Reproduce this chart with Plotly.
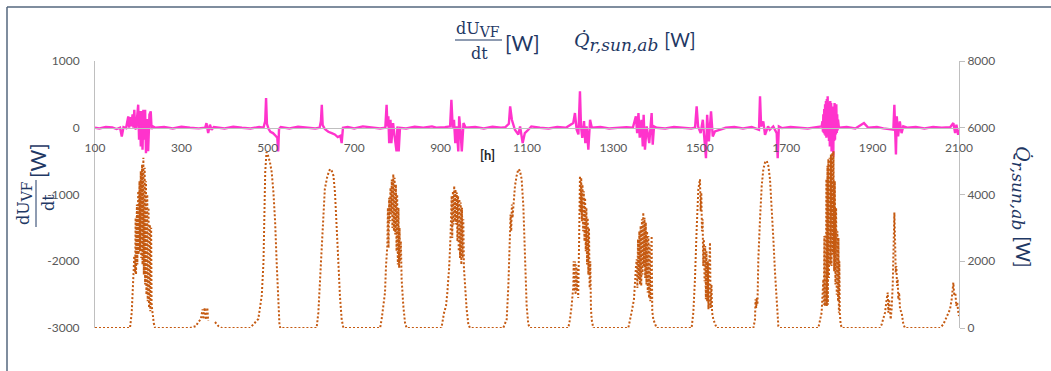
import plotly.graph_objects as go

# dU_VF/dt [W] against hours (left axis)
hours_dudt = [
    100, 110, 125, 140, 150, 158, 162, 166, 172, 177, 179, 181, 184, 187, 189, 191, 193, 195,
    200, 202, 204, 206, 208, 210, 212, 214, 216, 218, 220, 223, 226, 229, 231, 234, 240,
    260, 280, 300, 320, 340, 355, 358, 362, 366, 370, 375, 400, 420, 440, 460, 480, 490,
    494, 496, 498, 502, 506, 512, 518, 522, 524, 526, 530, 550, 570, 590, 610, 620,
    623, 625, 627, 632, 640, 648, 655, 662, 668, 671, 674, 685, 700, 720, 740, 760,
    772, 775, 777, 779, 781, 784, 786, 790, 794, 798, 800, 803, 806, 820, 840, 860,
    880, 890, 910, 922, 925, 928, 931, 934, 937, 941, 943, 946, 949, 953, 958, 980,
    1000, 1020, 1040, 1050, 1058, 1061, 1065, 1072, 1080, 1084, 1090, 1095, 1103, 1110,
    1130, 1150, 1170, 1190, 1207, 1211, 1215, 1219, 1222.6, 1225, 1228, 1232, 1235, 1238,
    1242, 1246, 1250, 1270, 1290, 1310, 1330, 1345, 1350, 1352, 1355, 1358, 1361, 1365,
    1368, 1370, 1373, 1377, 1383, 1388.5, 1391, 1394, 1400, 1420, 1440, 1460, 1480,
    1489, 1492.7, 1496, 1502, 1507, 1511, 1514.3, 1517, 1521, 1526, 1530, 1535, 1545,
    1560, 1580, 1600, 1620, 1637, 1639.4, 1642, 1647, 1651, 1658, 1662, 1670, 1678,
    1680.3, 1683, 1690, 1710, 1730, 1750, 1770, 1782,
    1784, 1785, 1786, 1787, 1788, 1789, 1790, 1791, 1792, 1793, 1794, 1795, 1796, 1797,
    1798, 1799, 1800, 1801, 1802, 1803, 1804, 1805, 1806, 1807, 1808, 1809, 1810, 1811,
    1812, 1813, 1814, 1815, 1816, 1817, 1818, 1819, 1820, 1822,
    1840, 1860, 1880, 1890, 1910, 1925, 1948, 1950.4, 1952.5, 1954, 1956, 1959, 1963,
    1967, 1971, 1980, 2000, 2020, 2040, 2060, 2080, 2087, 2091, 2094, 2098, 2100,
]
dudt_w = [
    0, -10, 10, 5, -20, 0, -130, 10, -5, 170, 0, 160, 20, 200, 0, 270, -10, -20,
    345, -180, 250, -280, 250, -330, 270, -180, 270, -380, 130, -350, 200, 245, -20, 20, 0,
    10, -10, 15, 0, -10, 0, 70, -80, 45, -30, 10, -10, 15, 0, -10, 10, 0,
    100, 445, 60, -20, -60, -80, -120, -150, -355, -20, 10, -10, 15, 0, -10, 0,
    100, 345, 40, -20, -60, -80, -100, -140, -120, -230, 0, 10, -10, 20, 0, -10,
    0, 345, 20, 170, -230, 120, -230, 70, -150, -355, 20, -355, 0, -10, 15, 0,
    20, 0, 10, 20, 420, 0, 120, -230, 20, -355, 170, -30, -355, 70, 0, 10,
    -10, 15, 0, 10, 60, 320, 120, -30, -100, 20, -230, -80, -30, 20,
    0, -10, 10, 0, 70, 220, -30, -100, 545, 20, -150, 100, -230, 20,
    -330, 120, 0, 10, -10, 0, 10, 0, 120, 170, -80, 220, -150, 120,
    -280, 195, -330, 20, -230, 220, -255, 20, 0, -10, 10, 0, -10,
    0, 320, 20, -80, 120, -180, -455, 195, -205, 245, -130, -55, -30,
    0, 10, -10, 10, -30, 470, 20, 95, -105, 20, -30, 20, -80,
    -455, 20, -5, 10, 0, -10, 10, 20,
    100, -60, 200, -80, 280, -100, 350, -120, 400, -150, 430, -100, 470, -130,
    380, -200, 320, -280, 400, -150, 370, -355, 300, -250, 320, -430, 250, -200,
    370, -180, 300, -100, 350, -80, 200, -40, 120, 0,
    10, -10, 70, 0, 10, -10, -30, 345, -80, -400, 170, -130, 95,
    -80, 20, 0, 10, -10, 10, 0, 10, 70, -80, 45, -105, -30,
]

# Q_r,sun,ab [W] against hours (right axis); None marks a break in the record
hours_sun = [
    100, 181, 185, 188, 191, 193, 194, 195, 197, 198, 200, 201, 203, 204, 206, 207, 209, 210,
    212, 213, 215, 216, 218, 219, 221, 222, 224, 225, 227, 228, 230, 231, 233, 236, 239,
    320, 334, 339, 345, 349, 351, 354, 357, 360, 362, None, 377.8, 385.5, 393,
    459, 478, 486, 490, 492, 494, 497, 501, 505, 509, 513, 517, 520.5, 524, 527, 529,
    613, 617, 621, 625, 628.5, 632, 638, 644, 648, 652, 655.5, 659.4, 663, 667, 671, 675,
    760, 763.5, 767.4, 771.3, 773.6, 776.7, 778, 779.5, 781, 782.5, 784, 785.5, 787, 788.5,
    790.5, 792, 793.5, 795, 796.5, 798, 799.5, 801, 802.5, 804, 805, 806.5, 808, 809.8,
    813.7, 817.6, 821.4,
    902, 908, 912.5, 915.6, 920, 923, 925.6, 927, 928.5, 930, 931.5, 933, 934.5, 936,
    937.5, 939, 940.5, 942, 943.5, 945, 946.5, 948, 949.5, 951, 952.6, 954, 956.4, 960.3,
    964.2, 968,
    1045, 1053, 1056.8, 1060.6, 1062, 1063.5, 1065, 1066.5, 1068.3, 1072.2, 1076, 1080,
    1083.7, 1087.6, 1091.5, 1093.8, 1096, 1099.2, 1103, 1107,
    1195.6, 1199.5, 1203.3, 1207.2, 1208, 1209.5, 1211, 1212.5, 1214, 1215.5, 1217, 1218.5,
    1220.5, 1222.6, 1224, 1225.5, 1227, 1228.5, 1230, 1231.5, 1233, 1234.5, 1236, 1237.5,
    1239, 1240.5, 1242, 1243.5, 1245, 1246.5, 1248, 1249.6, 1253.5,
    1334.5, 1342, 1347.6, 1352.3, 1354, 1355.5, 1357, 1358.5, 1360, 1361.5, 1363, 1364.5,
    1366, 1367.5, 1369.2, 1370.5, 1372, 1373.5, 1375, 1376.5, 1378, 1379.5, 1381, 1382.5,
    1384, 1385.5, 1387, 1388.5, 1390, 1392.4, 1400,
    1481, 1485, 1488.8, 1492.7, 1496.6, 1500.4, 1502, 1503.5, 1505, 1506.5, 1508, 1509.5,
    1511, 1512.5, 1514, 1515.5, 1517, 1518.5, 1520, 1521.5, 1523.6, 1525, 1527, 1528.5,
    1531.3, 1539,
    1624, 1627.8, 1629, 1630.5, 1632, 1633.5, 1635.5, 1639.4, 1643.3, 1647.1, 1651, 1654.8,
    1658.7, 1662.5, 1666.4, 1670.3, 1674.1, 1678, 1681.8, 1685.7,
    1774.4, 1782, 1784.5, 1786, 1787, 1788.3, 1789.5, 1791, 1792, 1793, 1794, 1795.5,
    1796.5, 1797.6, 1799, 1800.5, 1802, 1803.5, 1805, 1806.5, 1808, 1809.5, 1811, 1812.5,
    1814, 1815.5, 1817, 1818.5, 1820, 1821, 1822, 1823, 1824, 1826, 1829,
    1917, 1921, 1925, 1928.7, 1932.6, 1935, 1936.5, 1938.5, 1941.9, 1944, 1946.5, 1948,
    1950.4, 1952, 1953.5, 1955, 1956.5, 1958, 1959.5, 1961.5, 1963.5, 1967.3, 1971.2, 1975,
    2056, 2063.8, 2071.5, 2079.2, 2083, 2086.9, 2089.2, 2091.5, 2093.7, 2096, 2098.5, 2100,
]
q_sun_w = [
    0, 0, 460, 1260, 2160, 1660, 3300, 1600, 3700, 1900, 4100, 2200, 4400, 2300, 4700, 2100, 4900, 1900,
    5100, 1600, 4800, 1300, 4400, 1000, 4000, 800, 3600, 600, 3100, 500, 3000, 700, 400, 150, 0,
    0, 60, 180, 260, 560, 260, 610, 250, 610, 210, None, 180, 60, 0,
    0, 270, 970, 1970, 3470, 4670, 5270, 5150, 4970, 4670, 4070, 3170, 1970, 670, 100, 0,
    0, 460, 1460, 2660, 3460, 4160, 4560, 4760, 4710, 4560, 4060, 3160, 2060, 960, 260, 0,
    0, 260, 660, 1060, 1860, 2460, 3600, 2400, 3900, 3200, 4200, 3400, 4450, 3000,
    4610, 2900, 4500, 2800, 4300, 2300, 4000, 1900, 3600, 1800, 3000, 2000, 2600, 1460,
    660, 160, 0,
    0, 460, 660, 1060, 1860, 2760, 3960, 2700, 4100, 3100, 4260, 3200, 4150, 3100,
    4060, 2600, 3960, 2300, 3860, 2100, 3760, 1900, 3600, 2100, 3260, 1800, 1260, 560,
    110, 0,
    0, 260, 1260, 2460, 3400, 2900, 3700, 3300, 3660, 4260, 4560, 4760,
    4710, 4460, 3660, 2660, 1660, 660, 110, 0,
    0, 260, 660, 1260, 2000, 1100, 2000, 1000, 1900, 1100, 1800, 900,
    2500, 4560, 3460, 4500, 3200, 4300, 2900, 4100, 2600, 3900, 2300, 3600,
    1900, 3300, 1600, 3000, 1200, 2000, 600, 260, 0,
    0, 460, 860, 1860, 2060, 1200, 2660, 1460, 2900, 1300, 3060, 1260,
    3260, 1600, 3460, 1860, 3300, 1500, 3160, 1300, 2900, 1060, 2760, 900,
    2500, 800, 2200, 2760, 500, 260, 0,
    0, 460, 1460, 2960, 4160, 4460, 3500, 4060, 2900, 3260, 1860, 2660,
    1400, 2460, 860, 2300, 800, 2000, 560, 1800, 2560, 600, 1300, 460,
    260, 0,
    0, 260, 860, 600, 900, 700, 2060, 3260, 4260, 4760, 4960, 5010,
    4860, 4460, 3660, 2660, 1660, 660, 60, 0,
    0, 460, 960, 1460, 700, 2760, 660, 2800, 700, 4460, 660, 4860,
    700, 5060, 1500, 5100, 1900, 5200, 1860, 5250, 2200, 5300, 1700, 4400,
    1300, 3600, 1000, 2900, 800, 2700, 460, 2000, 460, 110, 0,
    0, 110, 260, 460, 860, 1060, 460, 860, 260, 560, 1260, 2060,
    3460, 2660, 1660, 1860, 1260, 1460, 860, 1060, 560, 460, 110, 0,
    0, 110, 310, 560, 860, 1360, 960, 1060, 660, 760, 460, 360,
]

x_ticks = [100, 300, 500, 700, 900, 1100, 1300, 1500, 1700, 1900, 2100]
left_ticks = [-3000, -2000, -1000, 0, 1000]
left_tick_text = ["-3000", "-2000", "-1000", "0", "1000"]
right_ticks = [0, 2000, 4000, 6000, 8000]

W, H = 1051, 371
PLOT_L, PLOT_R, PLOT_T, PLOT_B = 95, 959, 61, 328


def px(x):
    """Pixel column -> paper x."""
    return (x - PLOT_L) / (PLOT_R - PLOT_L)


def py(y):
    """Pixel row -> paper y."""
    return (PLOT_B - y) / (PLOT_B - PLOT_T)


TICK_FONT = dict(family="Lato, Open Sans, sans-serif", size=12, color="#595959")
NAVY = "#1F3864"
SERIF = "DejaVu Serif, Liberation Serif, serif"
AXIS_GREY = "#BFBFBF"

# solar-gain label with a full-size subscript
Q_LABEL = ("<i>Q\u0307</i><sub><span style='font-size:17px'><i>r,sun,ab</i></span></sub>"
           " <span style='font-family:Lato'>[W]</span>")
DU_LABEL = "dU<sub><span style='font-size:14px'>VF</span></sub>"

fig = go.Figure()

fig.add_trace(go.Scatter(
    x=hours_sun, y=q_sun_w, yaxis="y2", mode="lines",
    line=dict(color="#C55A11", width=2, dash="2px,2px"),
    connectgaps=False, showlegend=False, hoverinfo="skip",
))
fig.add_trace(go.Scatter(
    x=hours_dudt, y=dudt_w, yaxis="y", mode="lines",
    line=dict(color="#FF33CC", width=2.4),
    showlegend=False, hoverinfo="skip",
))

fig.update_layout(
    width=W, height=H,
    margin=dict(l=PLOT_L, r=W - PLOT_R, t=PLOT_T, b=H - PLOT_B, pad=0),
    paper_bgcolor="white", plot_bgcolor="white",
    xaxis=dict(
        range=[100, 2100], tickvals=x_ticks, ticktext=[str(v) for v in x_ticks],
        anchor="free", position=py(128), showgrid=False, zeroline=False,
        showline=True, linecolor=AXIS_GREY, linewidth=1,
        ticks="outside", ticklen=9, tickcolor="rgba(0,0,0,0)", tickfont=TICK_FONT,
    ),
    yaxis=dict(
        range=[-3000, 1000], tickvals=left_ticks, ticktext=left_tick_text,
        showgrid=False, zeroline=False, showline=True, linecolor=AXIS_GREY, linewidth=1,
        ticks="outside", ticklen=12, tickcolor="rgba(0,0,0,0)", tickfont=TICK_FONT,
    ),
    yaxis2=dict(
        range=[0, 8000], tickvals=right_ticks, ticktext=[str(v) for v in right_ticks],
        overlaying="y", side="right", showgrid=False, zeroline=False,
        showline=True, linecolor=AXIS_GREY, linewidth=1,
        ticks="outside", ticklen=5, tickcolor=AXIS_GREY, tickfont=TICK_FONT,
    ),
)

annotations = []
shapes = []

# labels above the plot: dU_VF/dt [W] and Q_r,sun,ab [W]
annotations.append(dict(
    x=px(478), y=py(30), xref="paper", yref="paper", showarrow=False,
    text=DU_LABEL, font=dict(family=SERIF, size=16, color=NAVY),
    xanchor="center", yanchor="middle",
))
shapes.append(dict(type="line", xref="paper", yref="paper",
                   x0=px(455), x1=px(502), y0=py(40), y1=py(40),
                   line=dict(color=NAVY, width=1)))
annotations.append(dict(
    x=px(479), y=py(54), xref="paper", yref="paper", showarrow=False,
    text="dt", font=dict(family=SERIF, size=16, color=NAVY),
    xanchor="center", yanchor="middle",
))
annotations.append(dict(
    x=px(503), y=py(42), xref="paper", yref="paper", showarrow=False,
    text="[W]", font=dict(family="Lato, sans-serif", size=21, color=NAVY),
    xanchor="left", yanchor="middle",
))
annotations.append(dict(
    x=px(572), y=py(41), xref="paper", yref="paper", showarrow=False,
    text=Q_LABEL, font=dict(family=SERIF, size=19, color=NAVY),
    xanchor="left", yanchor="middle",
))

# left axis title, rotated: dU_VF/dt [W]
annotations.append(dict(
    x=px(24), y=py(203), xref="paper", yref="paper", showarrow=False,
    text=DU_LABEL, textangle=-90,
    font=dict(family=SERIF, size=16, color=NAVY),
    xanchor="center", yanchor="middle",
))
shapes.append(dict(type="line", xref="paper", yref="paper",
                   x0=px(36), x1=px(36), y0=py(180), y1=py(227),
                   line=dict(color=NAVY, width=1)))
annotations.append(dict(
    x=px(48), y=py(203), xref="paper", yref="paper", showarrow=False,
    text="dt", textangle=-90,
    font=dict(family=SERIF, size=16, color=NAVY),
    xanchor="center", yanchor="middle",
))
annotations.append(dict(
    x=px(37), y=py(160), xref="paper", yref="paper", showarrow=False,
    text="[W]", textangle=-90,
    font=dict(family="Lato, sans-serif", size=21, color=NAVY),
    xanchor="center", yanchor="middle",
))

# right axis title, rotated
annotations.append(dict(
    x=px(1022), y=py(207), xref="paper", yref="paper", showarrow=False,
    text=Q_LABEL, textangle=90, font=dict(family=SERIF, size=19, color=NAVY),
    xanchor="center", yanchor="middle",
))

# x axis unit
annotations.append(dict(
    x=px(487), y=py(155), xref="paper", yref="paper", showarrow=False,
    text="<b>[h]</b>", font=dict(family="Lato, sans-serif", size=13, color="#262626"),
    xanchor="center", yanchor="middle",
))

# chart frame
shapes.append(dict(type="line", xref="paper", yref="paper",
                   x0=px(7), x1=px(1060), y0=py(7), y1=py(7),
                   line=dict(color="#55677E", width=1.5)))
shapes.append(dict(type="line", xref="paper", yref="paper",
                   x0=px(7), x1=px(7), y0=py(7), y1=py(380),
                   line=dict(color="#55677E", width=1.5)))

fig.update_layout(annotations=annotations, shapes=shapes)

fig.write_html("out.html")
